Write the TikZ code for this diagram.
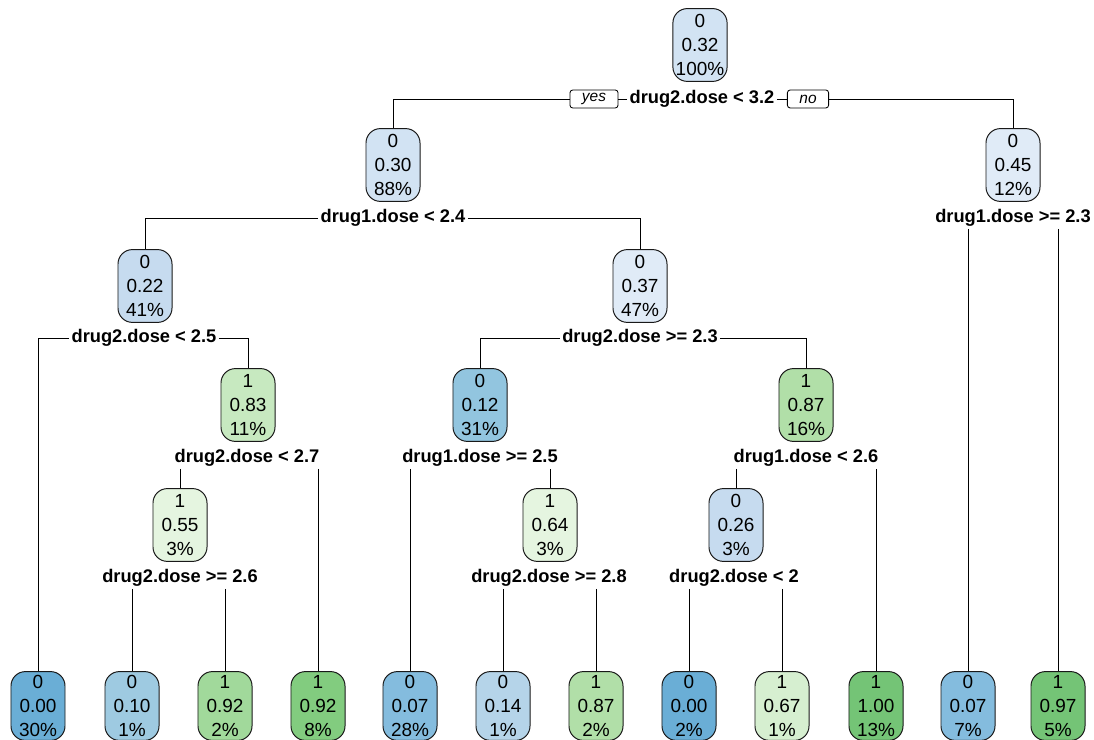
\documentclass[tikz,border=0pt]{standalone}
\usepackage{fontspec}
\setsansfont{Liberation Sans}
\usetikzlibrary{positioning}
\definecolor{bua}{RGB}{106,174,214}
\definecolor{bub}{RGB}{132,188,222}
\definecolor{buc}{RGB}{158,202,225}
\definecolor{bud}{RGB}{146,197,223}
\definecolor{bue}{RGB}{181,212,233}
\definecolor{buf}{RGB}{198,219,239}
\definecolor{bug}{RGB}{210,227,243}
\definecolor{buh}{RGB}{224,235,247}
\definecolor{gna}{RGB}{229,245,224}
\definecolor{gnb}{RGB}{214,239,208}
\definecolor{gnc}{RGB}{199,233,192}
\definecolor{gnd}{RGB}{177,223,168}
\definecolor{gne}{RGB}{161,217,155}
\definecolor{gnf}{RGB}{130,204,127}
\definecolor{gng}{RGB}{116,196,118}
\tikzset{
    mynode/.style = {rectangle, rounded corners=0.36cm, draw=black!90, line width=0.7pt, align=center, minimum width=1.35cm, minimum height=1.82cm, inner xsep=2pt, font=\sffamily\fontsize{13.5}{17}\selectfont, text=black},
    myleaf/.style = {mynode, minimum height=1.72cm, inner ysep=1pt},
    mysplit/.style = {align=center, inner sep=1.5pt, font=\sffamily\bfseries\fontsize{13}{16}\selectfont},
    myans/.style = {rectangle, rounded corners=2pt, draw=black, line width=0.6pt, fill=white, inner xsep=0.3cm, inner ysep=0pt, minimum height=0.45cm, font=\sffamily\itshape\fontsize{11}{13}\selectfont},
    edgen/.style = {-, line width=0.7pt, black}
}
\begin{document}
\begin{tikzpicture}[x=0.025cm, y=-0.025cm]
\path[use as bounding box] (0,0) rectangle (1094,740);
%
\node[mynode, fill=bug] at (700,45) (n0) {0\\0.32\\100\%};
\node[mynode, fill=bug] at (393,165) (n1) {0\\0.30\\88\%};
\node[mynode, fill=buh] at (1013,165) (n2) {0\\0.45\\12\%};
\node[mynode, fill=buf] at (145,286) (n3) {0\\0.22\\41\%};
\node[mynode, fill=buh] at (640,286) (n4) {0\\0.37\\47\%};
\node[mynode, fill=gnc] at (248,405) (n5) {1\\0.83\\11\%};
\node[mynode, fill=bud] at (480,405) (n6) {0\\0.12\\31\%};
\node[mynode, fill=gnd] at (806,405) (n7) {1\\0.87\\16\%};
\node[mynode, fill=gna] at (180,525) (n8) {1\\0.55\\3\%};
\node[mynode, fill=gna] at (550,525) (n9) {1\\0.64\\3\%};
\node[mynode, fill=buf] at (736,525) (n10) {0\\0.26\\3\%};
%
\node[myleaf, fill=bua] at (38,706) (l1) {0\\0.00\\30\%};
\node[myleaf, fill=buc] at (132,706) (l2) {0\\0.10\\1\%};
\node[myleaf, fill=gne] at (225,706) (l3) {1\\0.92\\2\%};
\node[myleaf, fill=gnf] at (318,706) (l4) {1\\0.92\\8\%};
\node[myleaf, fill=bub] at (410,706) (l5) {0\\0.07\\28\%};
\node[myleaf, fill=bue] at (503,706) (l6) {0\\0.14\\1\%};
\node[myleaf, fill=gnd] at (596,706) (l7) {1\\0.87\\2\%};
\node[myleaf, fill=bua] at (689,706) (l8) {0\\0.00\\2\%};
\node[myleaf, fill=gnb] at (782,706) (l9) {1\\0.67\\1\%};
\node[myleaf, fill=gng] at (876,706) (l10) {1\\1.00\\13\%};
\node[myleaf, fill=bub] at (968,706) (l11) {0\\0.07\\7\%};
\node[myleaf, fill=gng] at (1058,706) (l12) {1\\0.97\\5\%};
%
\node[mysplit] at (702,99) (s0) {drug2.dose < 3.2};
\node[mysplit] at (393,218) (s1) {drug1.dose < 2.4};
\node[mysplit] at (1013,218) (s2) {drug1.dose >= 2.3};
\node[mysplit] at (144,338) (s3) {drug2.dose < 2.5};
\node[mysplit] at (640,338) (s4) {drug2.dose >= 2.3};
\node[mysplit] at (247,458) (s5) {drug2.dose < 2.7};
\node[mysplit] at (480,458) (s6) {drug1.dose >= 2.5};
\node[mysplit] at (806,458) (s7) {drug1.dose < 2.6};
\node[mysplit] at (180,578) (s8) {drug2.dose >= 2.6};
\node[mysplit] at (549,578) (s9) {drug2.dose >= 2.8};
\node[mysplit] at (734,578) (s10) {drug2.dose < 2};
%
\node[myans] at (594,99) (yes) {yes};
\node[myans] at (808,99) (no) {no};
%
\draw[edgen] (s0.west) -- (yes.east);
\draw[edgen] (yes.west) -| (n1.north);
\draw[edgen] (s0.east) -- (no.west);
\draw[edgen] (no.east) -| (n2.north);
\draw[edgen] (s1.west) -| (n3.north);
\draw[edgen] (s1.east) -| (n4.north);
\draw[edgen] (s2.south -| l11.north) -- (l11.north);
\draw[edgen] (s2.south -| l12.north) -- (l12.north);
\draw[edgen] (s3.west) -| (l1.north);
\draw[edgen] (s3.east) -| (n5.north);
\draw[edgen] (s4.west) -| (n6.north);
\draw[edgen] (s4.east) -| (n7.north);
\draw[edgen] (s5.south -| n8.north) -- (n8.north);
\draw[edgen] (s5.south -| l4.north) -- (l4.north);
\draw[edgen] (s6.south -| l5.north) -- (l5.north);
\draw[edgen] (s6.south -| n9.north) -- (n9.north);
\draw[edgen] (s7.south -| n10.north) -- (n10.north);
\draw[edgen] (s7.south -| l10.north) -- (l10.north);
\draw[edgen] (s8.south -| l2.north) -- (l2.north);
\draw[edgen] (s8.south -| l3.north) -- (l3.north);
\draw[edgen] (s9.south -| l6.north) -- (l6.north);
\draw[edgen] (s9.south -| l7.north) -- (l7.north);
\draw[edgen] (s10.south -| l8.north) -- (l8.north);
\draw[edgen] (s10.south -| l9.north) -- (l9.north);

\end{tikzpicture}
\end{document}
